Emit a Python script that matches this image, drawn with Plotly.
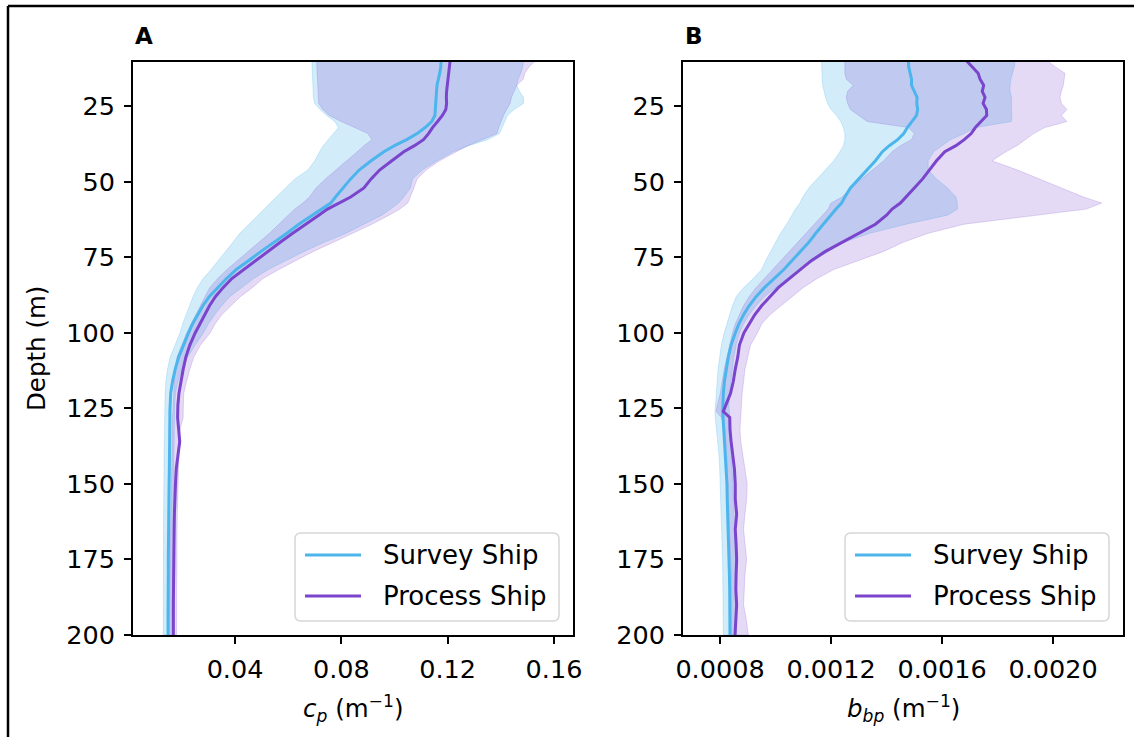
import plotly.graph_objects as go

# Depth grid (m) shared by all profiles
DEPTH = [10, 12, 14, 16, 18, 20, 22, 24, 26, 28,
         30, 32, 34, 36, 38, 40, 43, 46, 49, 52,
         55, 57, 59, 61, 64, 67, 70, 73, 76, 79,
         82, 85, 88, 91, 94, 97, 100, 104, 108, 112,
         116, 120, 124, 126, 128, 132, 136, 140, 145, 150,
         155, 160, 165, 170, 175, 180, 185, 190, 195, 200]

# Panel A: beam attenuation c_p (m^-1)
A_SURVEY_MEAN = [
    .1175, .1174, .1170, .1165, .1160, .1158, .1156, .1155, .1154, .1152,
    .1140, .1115, .1085, .1046, .1000, .0960, .0912, .0868, .0835, .0805,
    .0778, .0760, .0725, .0690, .0640, .0595, .0545, .0498, .0452, .0405,
    .0368, .0335, .0303, .0279, .0259, .0240, .0225, .0205, .0188, .0175,
    .0165, .0158, .0155, .0155, .0155, .0155, .0154, .0154, .0153, .0152,
    .0151, .0151, .0150, .0150, .0149, .0149, .0148, .0148, .0148, .0148]
A_SURVEY_LOW = [
    .0689, .0690, .0691, .0692, .0693, .0694, .0695, .0700, .0720, .0745,
    .0775, .0789, .0769, .0750, .0732, .0718, .0700, .0675, .0625, .0590,
    .0553, .0532, .0510, .0487, .0452, .0418, .0392, .0365, .0338, .0310,
    .0280, .0258, .0242, .0228, .0215, .0203, .0193, .0175, .0156, .0146,
    .0140, .0137, .0136, .0135, .0135, .0134, .0134, .0133, .0133, .0132,
    .0132, .0132, .0131, .0131, .0131, .0130, .0130, .0130, .0130, .0130]
A_SURVEY_HIGH = [
    .1485, .1482, .1475, .1465, .1460, .1470, .1485, .1485, .1450, .1425,
    .1415, .1405, .1395, .1350, .1280, .1220, .1160, .1105, .1068, .1060,
    .1035, .1015, .0985, .0952, .0885, .0818, .0735, .0660, .0590, .0525,
    .0470, .0425, .0380, .0350, .0323, .0300, .0281, .0250, .0222, .0200,
    .0186, .0176, .0173, .0172, .0172, .0171, .0171, .0170, .0170, .0170,
    .0169, .0169, .0169, .0168, .0168, .0168, .0168, .0168, .0168, .0168]
A_PROCESS_MEAN = [
    .1209, .1206, .1203, .1200, .1198, .1196, .1195, .1196, .1193, .1180,
    .1162, .1143, .1128, .1109, .1075, .1035, .0990, .0945, .0912, .0885,
    .0835, .0790, .0748, .0715, .0665, .0617, .0570, .0524, .0476, .0430,
    .0388, .0355, .0326, .0304, .0285, .0266, .0250, .0230, .0215, .0205,
    .0196, .0189, .0185, .0184, .0184, .0188, .0192, .0186, .0179, .0176,
    .0173, .0172, .0171, .0170, .0170, .0169, .0169, .0168, .0168, .0168]
A_PROCESS_LOW = [
    .0707, .0708, .0709, .0710, .0712, .0713, .0714, .0715, .0730, .0755,
    .0800, .0850, .0900, .0915, .0885, .0860, .0820, .0780, .0740, .0705,
    .0680, .0655, .0625, .0600, .0565, .0530, .0490, .0450, .0408, .0370,
    .0335, .0305, .0287, .0270, .0253, .0235, .0218, .0200, .0182, .0174,
    .0171, .0168, .0166, .0166, .0165, .0164, .0163, .0162, .0161, .0160,
    .0159, .0158, .0157, .0156, .0155, .0155, .0154, .0154, .0153, .0153]
A_PROCESS_HIGH = [
    .1529, .1505, .1490, .1484, .1460, .1450, .1440, .1435, .1422, .1410,
    .1400, .1392, .1385, .1330, .1275, .1230, .1170, .1120, .1085, .1073,
    .1060, .1050, .1020, .0980, .0915, .0843, .0770, .0695, .0630, .0565,
    .0505, .0465, .0420, .0385, .0350, .0325, .0306, .0270, .0245, .0230,
    .0218, .0207, .0205, .0205, .0205, .0193, .0190, .0188, .0186, .0185,
    .0184, .0183, .0182, .0182, .0181, .0181, .0180, .0180, .0180, .0180]

# Panel B: particulate backscattering b_bp (m^-1)
B_SURVEY_MEAN = [
    .001479, .00148, .001485, .00149, .00149, .0015, .00151, .001509, .001512, .001508,
    .00149, .001475, .001462, .00144, .00141, .001385, .00136, .00133, .0013, .00127,
    .00125, .001238, .001218, .0012, .00117, .001145, .00112, .00109, .00106, .00103,
    .000995, .00096, .00093, .000905, .000885, .000868, .000855, .00084, .00083, .000822,
    .000816, .000812, .00081, .00081, .000811, .000814, .000817, .00082, .000823, .000825,
    .000826, .000828, .00083, .000831, .000833, .000834, .000835, .000835, .000836, .000836]
B_SURVEY_LOW = [
    .001166, .001166, .001167, .001168, .00117, .001175, .00118, .001188, .0012, .00122,
    .001235, .001245, .00125, .00125, .001245, .001232, .00121, .00118, .00115, .00112,
    .001098, .001088, .001072, .00106, .00104, .001018, .001, .000982, .000965, .00095,
    .00092, .000885, .000858, .000845, .000835, .000825, .000815, .000805, .000798, .000793,
    .00079, .000787, .000783, .000782, .000783, .000788, .000792, .000796, .000799, .000801,
    .000803, .000804, .000806, .000807, .000809, .00081, .00081, .000811, .000812, .000812]
B_SURVEY_HIGH = [
    .001863, .00186, .001855, .001848, .001845, .001845, .00185, .00185, .00185, .001852,
    .00185, .00172, .00168, .00163, .0016, .00157, .00155, .00155, .00158, .00162,
    .00165, .001655, .001655, .00162, .00147, .00134, .001245, .00119, .00114, .00109,
    .00104, .001, .00096, .00093, .000905, .000885, .00087, .000858, .00085, .000845,
    .00084, .000835, .000832, .000832, .000834, .000838, .00084, .000843, .000846, .000848,
    .00085, .000852, .000854, .000855, .000857, .000858, .000859, .00086, .00086, .00086]
B_PROCESS_MEAN = [
    .001689, .00171, .00173, .001737, .00175, .001745, .001755, .001748, .00176, .001761,
    .00174, .00172, .001705, .00168, .00165, .00161, .00158, .001555, .00153, .0015,
    .00147, .00145, .00142, .0014, .00136, .0013, .00124, .00118, .00113, .00109,
    .00105, .00101, .00098, .00095, .000925, .000905, .000886, .00087, .000864, .000855,
    .000848, .000838, .000822, .000812, .000835, .000836, .00084, .000845, .000852, .000855,
    .000855, .00086, .000855, .000858, .00086, .000858, .000857, .00086, .000856, .000854]
B_PROCESS_LOW = [
    .00125, .00125, .00125, .001255, .00128, .00126, .001255, .00126, .00127, .0013,
    .00133, .00148, .0015, .00149, .00145, .00142, .00139, .00135, .00131, .00127,
    .00124, .0012, .00119, .00117, .00114, .00111, .00108, .00105, .00102, .00099,
    .00096, .00093, .000905, .000885, .00087, .000855, .000845, .000835, .000825, .000815,
    .000808, .000801, .00079, .000786, .000805, .000818, .000821, .000824, .000826, .000828,
    .00083, .000833, .000836, .000836, .000838, .00084, .00084, .000841, .000842, .000842]
B_PROCESS_HIGH = [
    .00198, .00201, .002043, .00204, .002037, .00203, .002025, .00203, .00205, .00203,
    .00205, .00197, .00193, .0019, .00187, .00183, .00178, .00187, .00195, .00203,
    .00211, .002175, .00212, .00194, .00168, .00155, .00146, .00139, .0013, .00121,
    .00115, .0011, .00106, .00102, .00098, .00095, .000935, .00091, .0009, .00089,
    .000885, .00088, .000876, .000875, .000874, .000872, .000875, .00088, .00089, .000898,
    .000896, .00089, .000885, .00089, .000896, .00089, .000888, .000885, .000895, .000902]

SHIPS = ["Survey Ship", "Process Ship"]
DEPTH_TICKS = [25, 50, 75, 100, 125, 150, 175, 200]
A_TICKS = [0.04, 0.08, 0.12, 0.16]
B_TICKS = [0.0008, 0.0012, 0.0016, 0.0020]

SURVEY_COLOR = "#4cb5ec"
PROCESS_COLOR = "#7a44cc"
SURVEY_FILL = "rgba(76,181,236,0.25)"
PROCESS_FILL = "rgba(122,68,204,0.20)"
FONT = "DejaVu Sans"
W, H = 1134, 737


def px(x):
    return x / W


def py(y):
    return 1 - y / H


def band(low, high, fill, xa, ya):
    return go.Scatter(
        x=list(low) + list(high)[::-1],
        y=list(DEPTH) + list(DEPTH)[::-1],
        fill="toself", fillcolor=fill, mode="lines",
        line=dict(color=fill, width=1),
        xaxis=xa, yaxis=ya, hoverinfo="skip", showlegend=False)


def profile(values, color, name, xa, ya):
    return go.Scatter(
        x=values, y=DEPTH, mode="lines", name=name,
        line=dict(color=color, width=3),
        xaxis=xa, yaxis=ya, showlegend=False)


panels = [
    dict(xa="x", ya="y",
         survey=(A_SURVEY_LOW, A_SURVEY_MEAN, A_SURVEY_HIGH),
         process=(A_PROCESS_LOW, A_PROCESS_MEAN, A_PROCESS_HIGH)),
    dict(xa="x2", ya="y2",
         survey=(B_SURVEY_LOW, B_SURVEY_MEAN, B_SURVEY_HIGH),
         process=(B_PROCESS_LOW, B_PROCESS_MEAN, B_PROCESS_HIGH)),
]

fig = go.Figure()
for p in panels:
    s_lo, s_mid, s_hi = p["survey"]
    p_lo, p_mid, p_hi = p["process"]
    fig.add_trace(band(s_lo, s_hi, SURVEY_FILL, p["xa"], p["ya"]))
    fig.add_trace(band(p_lo, p_hi, PROCESS_FILL, p["xa"], p["ya"]))
    fig.add_trace(profile(s_mid, SURVEY_COLOR, SHIPS[0], p["xa"], p["ya"]))
    fig.add_trace(profile(p_mid, PROCESS_COLOR, SHIPS[1], p["xa"], p["ya"]))

Y_DOMAIN = [py(635), py(62)]
axis_style = dict(
    showline=True, mirror=True, linecolor="#000000", linewidth=1.8,
    ticks="outside", ticklen=7, tickwidth=1.8, tickcolor="#000000",
    showgrid=False, zeroline=False, automargin=False,
    tickfont=dict(family=FONT, size=25.5, color="#000000"),
)

fig.update_layout(
    template="none",
    width=W, height=H, autosize=False,
    margin=dict(l=0, r=0, t=0, b=0, pad=0),
    paper_bgcolor="white", plot_bgcolor="white",
    showlegend=False,
    xaxis=dict(domain=[px(133), px(573)], range=[0.00162, 0.16715],
               tickvals=A_TICKS, tickformat=".2f", anchor="y",
               ticklabelstandoff=3, **axis_style),
    yaxis=dict(domain=Y_DOMAIN, range=[200, 10.3], tickvals=DEPTH_TICKS,
               anchor="x", ticklabelstandoff=4, **axis_style),
    xaxis2=dict(domain=[px(683), px(1123)], range=[0.0006667, 0.002252],
                tickvals=B_TICKS, tickformat=".4f", anchor="y2",
                ticklabelstandoff=3, **axis_style),
    yaxis2=dict(domain=Y_DOMAIN, range=[200, 10.3], tickvals=DEPTH_TICKS,
                anchor="x2", ticklabelstandoff=4, **axis_style),
)

title_font = dict(family=FONT, size=24.5, color="#000000")
annotations = [
    dict(text="Depth (m)", x=px(37), y=py(349), textangle=-90),
    dict(text="<i>c</i><sub><i>p</i></sub> (m<sup>−1</sup>)", x=px(353), y=py(708)),
    dict(text="<i>b</i><sub><i>bp</i></sub> (m<sup>−1</sup>)", x=px(903), y=py(708)),
]
for a in annotations:
    fig.add_annotation(xref="paper", yref="paper", showarrow=False,
                       xanchor="center", yanchor="middle", font=title_font, **a)

for letter, x0 in (("A", 133), ("B", 683)):
    fig.add_annotation(text=f"<b>{letter}</b>", xref="paper", yref="paper",
                       x=px(x0), y=py(36), xanchor="left", yanchor="middle",
                       showarrow=False, font=dict(family=FONT, size=23, color="#000000"))


def rounded_box(x0, y0, x1, y1, r):
    pts = [
        ("M", [(x0 + r, y0)]), ("L", [(x1 - r, y0)]), ("Q", [(x1, y0), (x1, y0 + r)]),
        ("L", [(x1, y1 - r)]), ("Q", [(x1, y1), (x1 - r, y1)]), ("L", [(x0 + r, y1)]),
        ("Q", [(x0, y1), (x0, y1 - r)]), ("L", [(x0, y0 + r)]), ("Q", [(x0, y0), (x0 + r, y0)]),
    ]
    parts = []
    for cmd, coords in pts:
        parts.append(cmd + " ".join(f"{px(a):.5f},{py(b):.5f}" for a, b in coords))
    return " ".join(parts) + " Z"


# Legend boxes drawn inside each panel (lower right)
legend_font = dict(family=FONT, size=26, color="#000000")
for left in (295, 845):
    right = left + 264
    fig.add_shape(type="path", xref="paper", yref="paper",
                  path=rounded_box(left, 533, right, 621, 6),
                  line=dict(color="#d6d6d6", width=1.5),
                  fillcolor="rgba(255,255,255,0.85)", layer="above")
    for name, color, row_y in ((SHIPS[0], SURVEY_COLOR, 555), (SHIPS[1], PROCESS_COLOR, 596)):
        fig.add_shape(type="line", xref="paper", yref="paper",
                      x0=px(left + 10), x1=px(left + 66), y0=py(row_y), y1=py(row_y),
                      line=dict(color=color, width=3), layer="above")
        fig.add_annotation(text=name, xref="paper", yref="paper",
                           x=px(left + 86), y=py(row_y), xanchor="left", yanchor="middle",
                           showarrow=False, font=legend_font)

# Outer frame (top and left edges)
fig.add_shape(type="line", xref="paper", yref="paper", x0=px(8), x1=px(8),
              y0=py(6), y1=0, line=dict(color="#000000", width=2.5))
fig.add_shape(type="line", xref="paper", yref="paper", x0=px(8), x1=1,
              y0=py(6), y1=py(6), line=dict(color="#000000", width=2.5))

fig.write_html("out.html", config={"responsive": False})
